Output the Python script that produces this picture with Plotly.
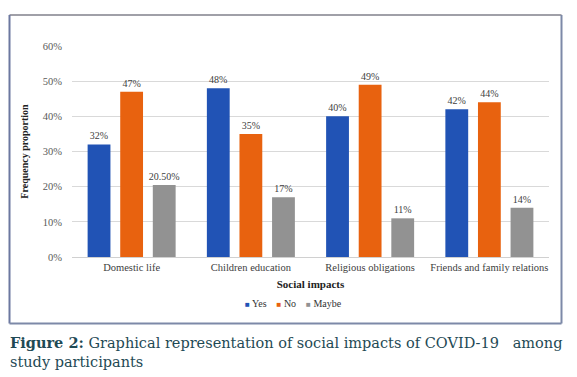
import plotly.graph_objects as go

categories = ["Domestic life", "Children education", "Religious obligations", "Friends and family relations"]
yes_vals = [0.32, 0.48, 0.40, 0.42]
no_vals = [0.47, 0.35, 0.49, 0.44]
maybe_vals = [0.205, 0.17, 0.11, 0.14]
yes_text = ["32%", "48%", "40%", "42%"]
no_text = ["47%", "35%", "49%", "44%"]
maybe_text = ["20.50%", "17%", "11%", "14%"]
y_ticks = [0, 0.1, 0.2, 0.3, 0.4, 0.5, 0.6]
y_tick_labels = ["0%", "10%", "20%", "30%", "40%", "50%", "60%"]
series_names = ["Yes", "No", "Maybe"]
series_colors = ["#2153b5", "#e8620f", "#929292"]

# page body has an 8px margin: figure is drawn offset by 8px
OFF = 8
W, H = 577 - OFF, 377 - OFF
def px(x):
    return (x - OFF) / W
def py(y):
    return 1 - (y - OFF) / H

serif = "Liberation Serif"
fig = go.Figure()
for name, vals, txt, col in zip(series_names, [yes_vals, no_vals, maybe_vals],
                                [yes_text, no_text, maybe_text], series_colors):
    fig.add_trace(go.Bar(
        x=categories, y=vals, name=name, text=txt, textposition="outside",
        constraintext="none",
        textfont=dict(family=serif, size=10, color="#404040"),
        marker=dict(color=col, line=dict(width=0)), cliponaxis=False,
    ))

fig.update_layout(
    width=W, height=H,
    margin=dict(l=0, r=0, t=0, b=0),
    paper_bgcolor="white", plot_bgcolor="white",
    barmode="group", bargap=0.18, bargroupgap=0.3,
    font=dict(family=serif, size=10, color="#404040"),
    showlegend=False,
    xaxis=dict(domain=[px(72), px(549)], showline=True, linecolor="#d0d0d0", automargin=False,
               ticks="", tickfont=dict(family=serif, size=10.5, color="#404040"),
               title=dict(text="<b>Social impacts</b>", font=dict(family=serif, size=11, color="#222"), standoff=8)),
    yaxis=dict(domain=[py(257), py(46)], range=[0, 0.6], tickvals=y_ticks, ticktext=y_tick_labels,
               showgrid=True, gridcolor="#d9d9d9", zeroline=False, ticks="", automargin=False,
               tickfont=dict(family=serif, size=10.5, color="#595959"), ticklabelstandoff=9,
               title=dict(text="<b>Frequency proportion</b>", font=dict(family=serif, size=10, color="#222"), standoff=12)),
)

# frame: top (gray), left / right / bottom (blue-gray)
frame_lines = [
    (9.5, 15, 561.5, 15, "#a0a0a8"),
    (9.5, 15, 9.5, 323.5, "#6c78a0"),
    (561.5, 15, 561.5, 323.5, "#7d89a8"),
    (9.5, 323.5, 561.5, 323.5, "#7d89a8"),
]
for x0, y0, x1, y1, c in frame_lines:
    fig.add_shape(type="line", xref="paper", yref="paper", x0=px(x0), x1=px(x1), y0=py(y0), y1=py(y1),
                  line=dict(color=c, width=2), layer="above")

legend_text = "    ".join(
    f"<span style='color:{c};font-size:8px'>■</span> {n}" for n, c in zip(series_names, series_colors)
)
fig.add_annotation(xref="paper", yref="paper", x=px(293), y=py(303), xanchor="center", yanchor="middle",
                   showarrow=False, text=legend_text,
                   font=dict(family=serif, size=10, color="#333"))

fig.add_annotation(xref="paper", yref="paper", x=px(8), y=py(332), xanchor="left", yanchor="top",
                   align="left", showarrow=False,
                   text="<b>Figure 2:</b> Graphical representation of social impacts of COVID-19   among<br>study participants",
                   font=dict(family="DejaVu Serif", size=14.5, color="#1f4a55"))

fig.write_html("out.html")
